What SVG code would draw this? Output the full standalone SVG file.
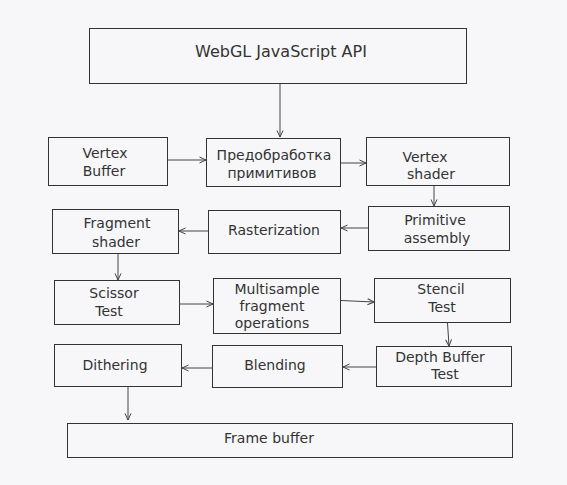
<svg xmlns="http://www.w3.org/2000/svg" width="567" height="485" viewBox="0 0 567 485">
<defs>
<style>
.box{fill:#f7f7f9;stroke:#333;stroke-width:1}
.t{font-family:"DejaVu Sans",Verdana,sans-serif;font-size:14px;fill:#333;text-anchor:middle}
.big{font-size:16px}
.c{fill:none;stroke:#444;stroke-width:1;marker-end:url(#ah)}
</style>
<marker id="ah" markerUnits="userSpaceOnUse" markerWidth="8" markerHeight="8" viewBox="0 0 8 8" refX="7.5" refY="4" orient="auto">
<path d="M1,1 L7.5,4 L1,7" fill="none" stroke="#444" stroke-width="1"/>
</marker>
</defs>
<rect width="567" height="485" fill="#f7f7f9"/>
<g id="connectors">
<line class="c" x1="280" y1="84" x2="280" y2="137"/>
<line class="c" x1="168" y1="160" x2="206" y2="160"/>
<line class="c" x1="341" y1="163" x2="366" y2="163"/>
<line class="c" x1="434" y1="186" x2="434" y2="206"/>
<line class="c" x1="368" y1="228" x2="341" y2="228"/>
<line class="c" x1="208" y1="231" x2="179" y2="231"/>
<line class="c" x1="118" y1="254" x2="118" y2="280"/>
<line class="c" x1="180" y1="304" x2="213" y2="304"/>
<line class="c" x1="341" y1="300.5" x2="374" y2="302"/>
<line class="c" x1="447.5" y1="323" x2="449" y2="346"/>
<line class="c" x1="376" y1="367" x2="343" y2="367"/>
<line class="c" x1="212" y1="368" x2="182" y2="368"/>
<line class="c" x1="128" y1="387" x2="128" y2="420"/>
</g>
<g id="webgl"><rect class="box" x="89.5" y="28.5" width="377" height="55"/><text class="t big" x="281" y="57">WebGL JavaScript API</text></g>
<g id="vertex-buffer"><rect class="box" x="48.5" y="137.5" width="119" height="48"/><text class="t" x="105" y="158">Vertex</text><text class="t" x="104" y="176">Buffer</text></g>
<g id="preprocessing"><rect class="box" x="206.5" y="138.5" width="134" height="48"/><text class="t" x="274" y="160">Предобработка</text><text class="t" x="272" y="178">примитивов</text></g>
<g id="vertex-shader"><rect class="box" x="366.5" y="137.5" width="143" height="48"/><text class="t" x="425" y="161.5">Vertex</text><text class="t" x="431" y="178.5">shader</text></g>
<g id="fragment-shader"><rect class="box" x="52.5" y="209.5" width="126" height="44"/><text class="t" x="117" y="228">Fragment</text><text class="t" x="116" y="246.5">shader</text></g>
<g id="rasterization"><rect class="box" x="208.5" y="210.5" width="132" height="43"/><text class="t" x="274" y="235">Rasterization</text></g>
<g id="primitive-assembly"><rect class="box" x="368.5" y="206.5" width="141" height="44"/><text class="t" x="435" y="225">Primitive</text><text class="t" x="437" y="242.5">assembly</text></g>
<g id="scissor-test"><rect class="box" x="54.5" y="280.5" width="125" height="44"/><text class="t" x="114" y="297.5">Scissor</text><text class="t" x="109" y="315.5">Test</text></g>
<g id="multisample"><rect class="box" x="213.5" y="278.5" width="127" height="55"/><text class="t" x="277" y="294">Multisample</text><text class="t" x="272" y="311">fragment</text><text class="t" x="272" y="328">operations</text></g>
<g id="stencil-test"><rect class="box" x="374.5" y="278.5" width="136" height="44"/><text class="t" x="441" y="294">Stencil</text><text class="t" x="442" y="311.5">Test</text></g>
<g id="dithering"><rect class="box" x="54.5" y="344.5" width="127" height="42"/><text class="t" x="115" y="370">Dithering</text></g>
<g id="blending"><rect class="box" x="212.5" y="345.5" width="130" height="42"/><text class="t" x="275" y="370">Blending</text></g>
<g id="depth-buffer-test"><rect class="box" x="376.5" y="346.5" width="135" height="40"/><text class="t" x="440" y="361.5">Depth Buffer</text><text class="t" x="445" y="379">Test</text></g>
<g id="frame-buffer"><rect class="box" x="67.5" y="423.5" width="445" height="34"/><text class="t" x="269" y="443">Frame buffer</text></g>
</svg>
